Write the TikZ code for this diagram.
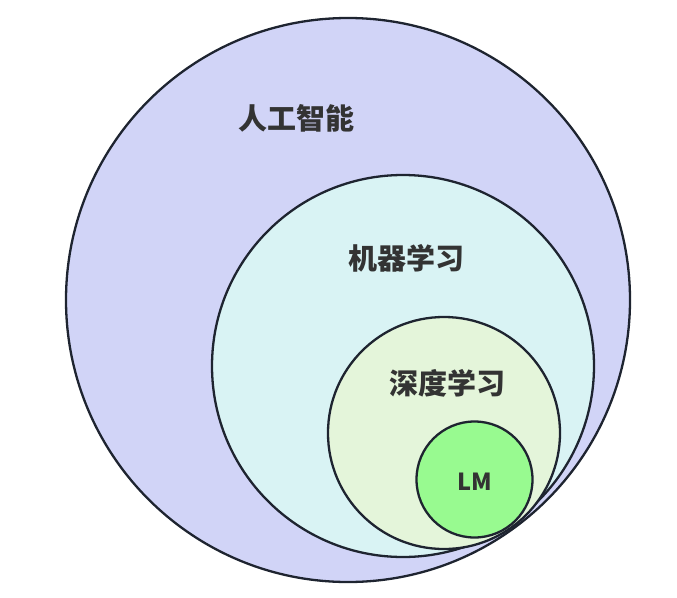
\documentclass[tikz,border=0pt]{standalone}
\usepackage{fontspec}
\newfontfamily\cjk{Noto Sans CJK SC}
\definecolor{strokec}{HTML}{1E2430}
\definecolor{aifill}{HTML}{D1D4F7}
\definecolor{mlfill}{HTML}{D9F3F4}
\definecolor{dlfill}{HTML}{E4F5DA}
\definecolor{lmfill}{HTML}{98FA90}
\definecolor{txtc}{HTML}{333333}
\tikzset{
  ring/.style={circle, draw=strokec, line width=2.3pt, inner sep=0pt},
  lab/.style={font=\cjk\bfseries\fontsize{29}{32}\selectfont, text=txtc, inner sep=0pt},
  smalllab/.style={font=\cjk\bfseries\fontsize{23.5}{26}\selectfont, text=txtc, inner sep=0pt}
}
\begin{document}
\begin{tikzpicture}[x=1pt,y=-1pt]
\useasboundingbox (0,0) rectangle (677,597);
\node[ring, fill=aifill, minimum size=564pt] (ai) at (348,300) {};
\node[ring, fill=mlfill, minimum size=382pt] (ml) at (403,366) {};
\node[ring, fill=dlfill, minimum size=232pt] (dl) at (444,433) {};
\node[ring, fill=lmfill, minimum size=116pt] (lm) at (474.5,479.5) {};
\node[lab] (ait) at (296,118) {人工智能};
\node[lab] (mlt) at (406,258) {机器学习};
\node[lab] (dlt) at (447,383) {深度学习};
\node[smalllab] (lmt) at (475,482) {LM};
\end{tikzpicture}
\end{document}
